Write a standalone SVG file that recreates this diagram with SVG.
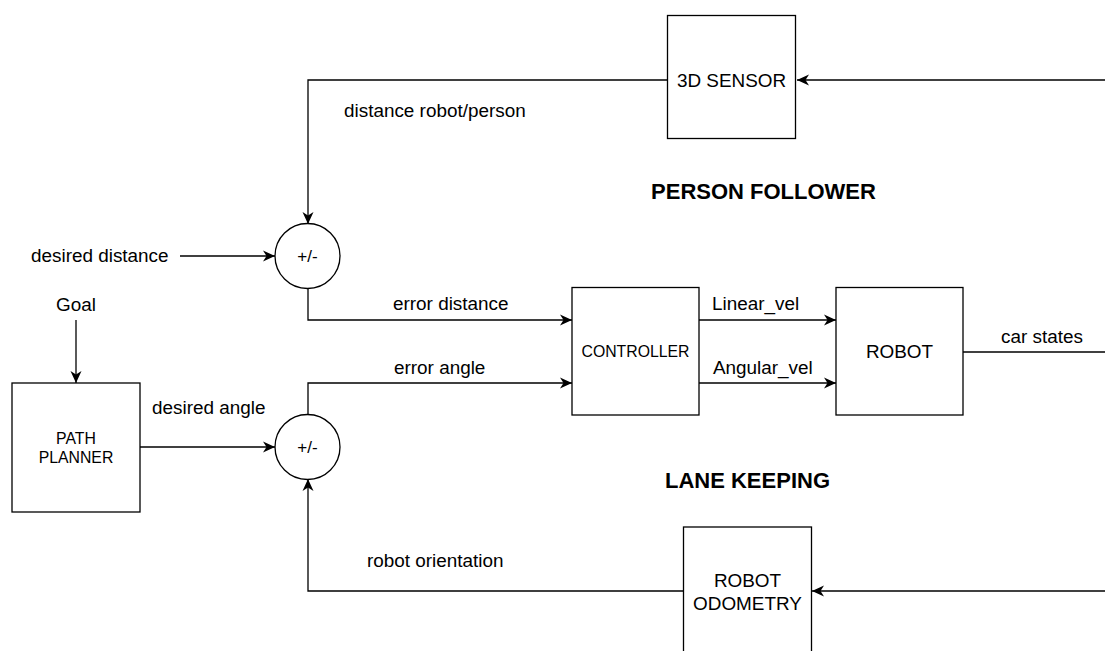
<svg xmlns="http://www.w3.org/2000/svg" width="1105" height="651" viewBox="0 0 1105 651">
  <style>
    .box { fill: #ffffff; stroke: #000000; stroke-width: 1.3; }
    .wire { fill: none; stroke: #000000; stroke-width: 1.3; }
    .lbl { font-family: "Liberation Sans", Arial, sans-serif; font-size: 18.9px; fill: #000000; }
    .small { font-family: "Liberation Sans", Arial, sans-serif; font-size: 15.8px; fill: #000000; }
    .sign { font-family: "Liberation Sans", Arial, sans-serif; font-size: 17px; fill: #000000; }
    .title { font-family: "Liberation Sans", Arial, sans-serif; font-size: 22px; font-weight: bold; fill: #000000; }
    .mid { text-anchor: middle; }
  </style>
  <defs>
    <marker id="arrow" markerUnits="userSpaceOnUse" markerWidth="13" markerHeight="12" refX="12" refY="6" orient="auto">
      <path d="M0,0.5 L12,6 L0,11.5 L3.5,6 Z" fill="#000000"/>
    </marker>
  </defs>

  <!-- connectors -->
  <g id="connectors">
    <path class="wire" d="M1105,80 L797,80" marker-end="url(#arrow)"/>
    <path class="wire" d="M667,80 L308,80 L308,224" marker-end="url(#arrow)"/>
    <path class="wire" d="M180,256 L275,256" marker-end="url(#arrow)"/>
    <path class="wire" d="M308,288 L308,320 L572,320" marker-end="url(#arrow)"/>
    <path class="wire" d="M76,320 L76,383" marker-end="url(#arrow)"/>
    <path class="wire" d="M140,447 L275,447" marker-end="url(#arrow)"/>
    <path class="wire" d="M308,415 L308,383 L572,383" marker-end="url(#arrow)"/>
    <path class="wire" d="M699,320 L836,320" marker-end="url(#arrow)"/>
    <path class="wire" d="M699,383 L836,383" marker-end="url(#arrow)"/>
    <path class="wire" d="M963,352 L1105,352"/>
    <path class="wire" d="M1105,591 L812,591" marker-end="url(#arrow)"/>
    <path class="wire" d="M683,591 L308,591 L308,479" marker-end="url(#arrow)"/>
  </g>

  <!-- connector labels -->
  <g id="labels">
    <text class="lbl" x="344" y="117">distance robot/person</text>
    <text class="lbl" x="31" y="262">desired distance</text>
    <text class="lbl" x="56" y="311">Goal</text>
    <text class="lbl" x="393" y="310">error distance</text>
    <text class="lbl" x="394" y="374">error angle</text>
    <text class="lbl" x="152" y="414">desired angle</text>
    <text class="lbl" x="712" y="310">Linear_vel</text>
    <text class="lbl" x="713" y="374">Angular_vel</text>
    <text class="lbl" x="1001" y="343">car states</text>
    <text class="lbl" x="367" y="567">robot orientation</text>
    <text class="title mid" x="763.5" y="199">PERSON FOLLOWER</text>
    <text class="title mid" x="747.5" y="488">LANE KEEPING</text>
  </g>

  <g id="sensor3d">
    <rect class="box" x="667.5" y="15.5" width="128" height="123"/>
    <text class="lbl mid" x="731.5" y="87">3D SENSOR</text>
  </g>

  <g id="sum-distance">
    <circle class="box" cx="307.5" cy="256" r="32.5"/>
    <text class="sign mid" x="307.5" y="262">+/-</text>
  </g>

  <g id="sum-angle">
    <circle class="box" cx="307.5" cy="447" r="32.5"/>
    <text class="sign mid" x="307.5" y="453">+/-</text>
  </g>

  <g id="path-planner">
    <rect class="box" x="12" y="383" width="128" height="129"/>
    <text class="small mid" x="76" y="444">PATH</text>
    <text class="small mid" x="76" y="463">PLANNER</text>
  </g>

  <g id="controller">
    <rect class="box" x="572" y="287.5" width="127" height="127.5"/>
    <text class="small mid" x="635.5" y="357">CONTROLLER</text>
  </g>

  <g id="robot">
    <rect class="box" x="836" y="287.5" width="127" height="127.5"/>
    <text class="lbl mid" x="899.5" y="358">ROBOT</text>
  </g>

  <g id="robot-odometry">
    <rect class="box" x="683.5" y="527" width="128" height="130"/>
    <text class="lbl mid" x="747.5" y="587">ROBOT</text>
    <text class="lbl mid" x="747.5" y="610">ODOMETRY</text>
  </g>
</svg>
